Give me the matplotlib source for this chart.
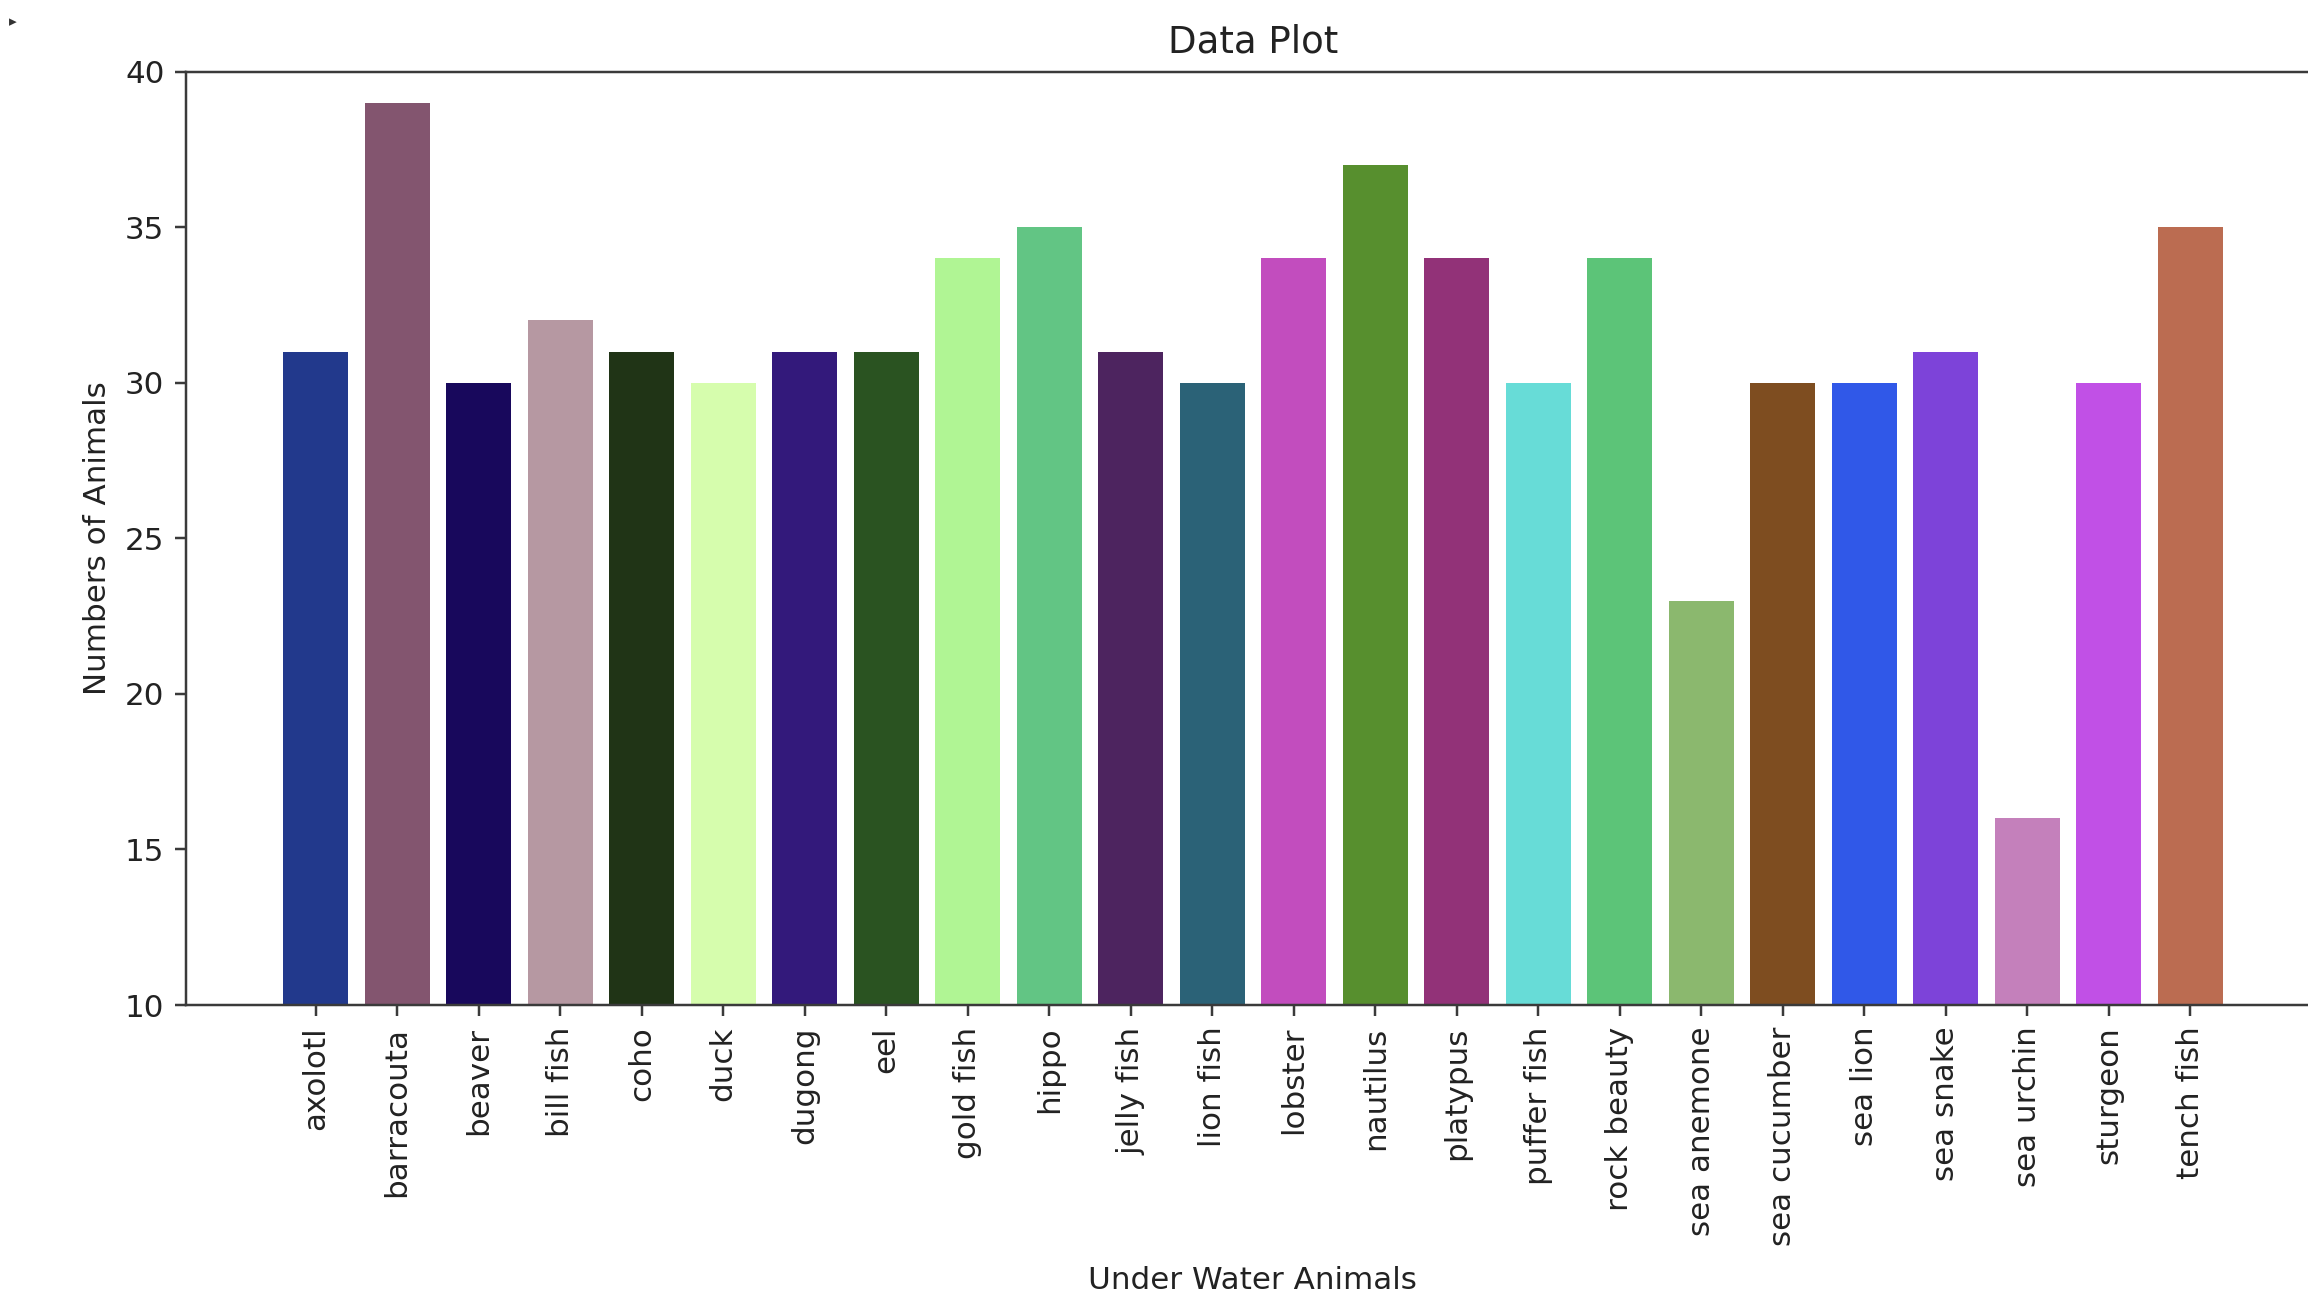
import matplotlib
matplotlib.use("Agg")
import matplotlib.pyplot as plt

# data
animals = [
    "axolotl", "barracouta", "beaver", "bill fish", "coho", "duck",
    "dugong", "eel", "gold fish", "hippo", "jelly fish", "lion fish",
    "lobster", "nautilus", "platypus", "puffer fish", "rock beauty",
    "sea anemone", "sea cucumber", "sea lion", "sea snake", "sea urchin",
    "sturgeon", "tench fish",
]
counts = [31, 39, 30, 32, 31, 30, 31, 31, 34, 35, 31, 30,
          34, 37, 34, 30, 34, 23, 30, 30, 31, 16, 30, 35]
bar_colors = [
    "#22398c", "#83556f", "#18085c", "#b698a2", "#203416", "#d6fdad",
    "#33197b", "#2a5321", "#b0f594", "#62c584", "#4d245f", "#2b6277",
    "#c24dbe", "#578f2e", "#923278", "#67dcd7", "#5cc478", "#8bb86e",
    "#7e4d20", "#3058e8", "#7d43d9", "#c480bb", "#c150e6", "#bb6c51",
]


def main():
    # screenshot looks a bit soft, so text and lines read dark grey
    plt.rcParams.update({
        "text.color": "#222222",
        "axes.labelcolor": "#222222",
        "axes.edgecolor": "#3a3a3a",
        "xtick.color": "#3a3a3a",
        "ytick.color": "#3a3a3a",
        "xtick.labelcolor": "#222222",
        "ytick.labelcolor": "#222222",
    })

    dpi = 223
    fig = plt.figure(figsize=(2308 / dpi, 1300 / dpi), dpi=dpi)
    # screenshot is cropped: the axes run slightly past the right edge
    ax = fig.add_axes([0.0806, 0.2269, 0.9245, 0.7181])

    ax.bar(animals, counts, color=bar_colors)
    ax.set_ylim(10, 40)

    ax.set_title("Data Plot")
    ax.set_xlabel("Under Water Animals", labelpad=6.5)
    ax.set_ylabel("Numbers of Animals")
    ax.tick_params(axis="x", labelrotation=90)

    # little notebook marker in the corner
    fig.text(0.004, 0.983, "\u25b8", fontsize=5, color="#333333",
             ha="left", va="center")

    fig.savefig("out.png", dpi=dpi)
    plt.close(fig)


if __name__ == "__main__":
    main()
